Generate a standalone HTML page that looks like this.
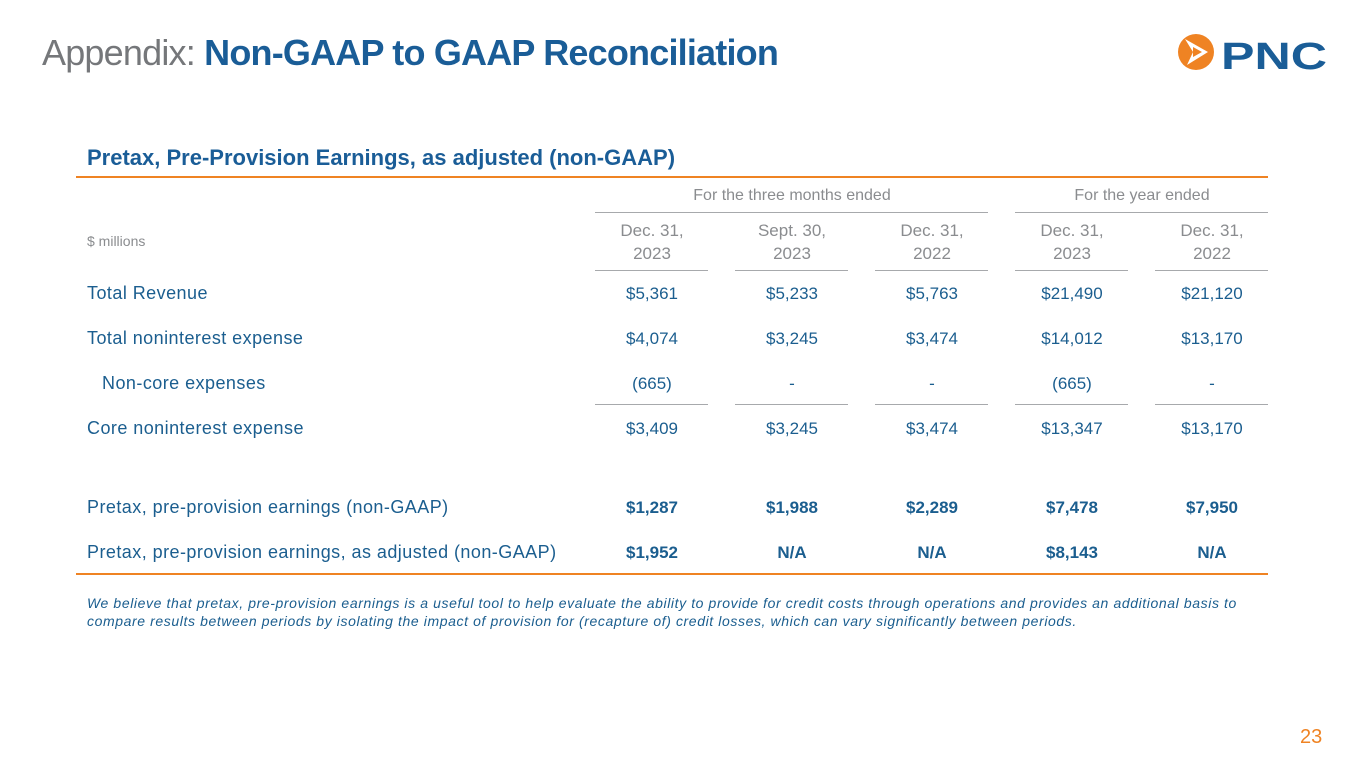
<!DOCTYPE html>
<html><head><meta charset="utf-8"><style>
body{margin:0;width:1365px;height:768px;background:#fff;position:relative;overflow:hidden;font-family:"Liberation Sans",sans-serif;}
.a{position:absolute;white-space:nowrap}
.lbl{left:87px;font-size:18px;letter-spacing:0.45px;color:#1b5e8f}
.v{font-size:17px;color:#1b5e8f;width:140px;text-align:center}
.b{font-weight:bold}
.hd{font-size:16px;color:#8a8c8f;text-align:center;width:140px;line-height:23px}
.ln{position:absolute;height:1px;background:#a7a9ac}
</style></head><body>
<div class="a" style="left:42px;top:32px;font-size:36px;letter-spacing:-0.8px;color:#75777a">Appendix: <span style="color:#1a5d97;font-weight:bold">Non-GAAP to GAAP Reconciliation</span></div>
<svg class="a" style="left:1175px;top:30px" width="160" height="50">
<circle cx="21" cy="22" r="18" fill="#ef8323"/>
<path d="M10 9 L33 22 L12 35 L18 22 Z" fill="#fff"/>
<path d="M18 17 L27 22 L18 27 Z" fill="#ef8323"/>
<text x="46" y="39" font-family="Liberation Sans" font-weight="bold" font-size="38" textLength="106" lengthAdjust="spacingAndGlyphs" fill="#1a5d97">PNC</text>
</svg>
<div class="a" style="left:87px;top:145px;font-size:22px;font-weight:bold;color:#1a5d97">Pretax, Pre-Provision Earnings, as adjusted (non-GAAP)</div>
<div class="a" style="left:76px;top:176px;width:1192px;height:2px;background:#ef8323"></div>
<div class="a hd" style="left:592px;width:400px;top:184px">For the three months ended</div>
<div class="a hd" style="left:1013px;width:258px;top:184px">For the year ended</div>
<div class="ln" style="left:595px;top:212px;width:393px"></div>
<div class="ln" style="left:1015px;top:212px;width:253px"></div>
<div class="a" style="left:87px;top:233px;font-size:14px;color:#8a8c8f">$ millions</div>
<div class="a" style="left:76px;top:573px;width:1192px;height:2px;background:#ef8323"></div>
<div class="a" style="left:87px;top:594px;font-size:14px;letter-spacing:0.6px;font-style:italic;color:#1b5e8f;line-height:18px;white-space:normal;width:1180px">We believe that pretax, pre-provision earnings is a useful tool to help evaluate the ability to provide for credit costs through operations and provides an additional basis to compare results between periods by isolating the impact of provision for (recapture of) credit losses, which can vary significantly between periods.</div>
<div class="a" style="left:1300px;top:726px;font-size:20px;color:#ef8323">23</div>
<script>
const cols=[652,792,932,1072,1212];
const headers=[["Dec. 31,","2023"],["Sept. 30,","2023"],["Dec. 31,","2022"],["Dec. 31,","2023"],["Dec. 31,","2022"]];
const labels=["Total Revenue","Total noninterest expense","Non-core expenses","Core noninterest expense","Pretax, pre-provision earnings (non-GAAP)","Pretax, pre-provision earnings, as adjusted (non-GAAP)"];
const rowY=[294,339,384,429,508,553];
const vals=[["$5,361","$5,233","$5,763","$21,490","$21,120"],["$4,074","$3,245","$3,474","$14,012","$13,170"],["(665)","-","-","(665)","-"],["$3,409","$3,245","$3,474","$13,347","$13,170"],["$1,287","$1,988","$2,289","$7,478","$7,950"],["$1,952","N/A","N/A","$8,143","N/A"]];
const bold=[false,false,false,false,true,true];
const b=document.body;
headers.forEach((h,i)=>{
 const d=document.createElement('div');d.className='a hd';
 
 
 d.style.left=(cols[i]-70)+'px';d.style.top='219px';d.style.fontSize='17px';
 d.innerHTML=h[0]+'<br>'+h[1];b.appendChild(d);
 [270,404].forEach(y=>{const l=document.createElement('div');l.className='ln';
 
 
 l.style.left=(cols[i]-57)+'px';l.style.width='113px';l.style.top=y+'px';b.appendChild(l);});
});
labels.forEach((t,r)=>{
 const d=document.createElement('div');d.className='a lbl';
 
 
 d.style.top=(rowY[r]-11)+'px';if(r==2)d.style.left='102px';d.textContent=t;b.appendChild(d);
 vals[r].forEach((v,i)=>{const c=document.createElement('div');c.className='a v'+(bold[r]?' b':'');
 
 
 c.style.left=(cols[i]-70)+'px';c.style.top=(rowY[r]-10)+'px';c.textContent=v;b.appendChild(c);});
});
</script>
</body></html>
